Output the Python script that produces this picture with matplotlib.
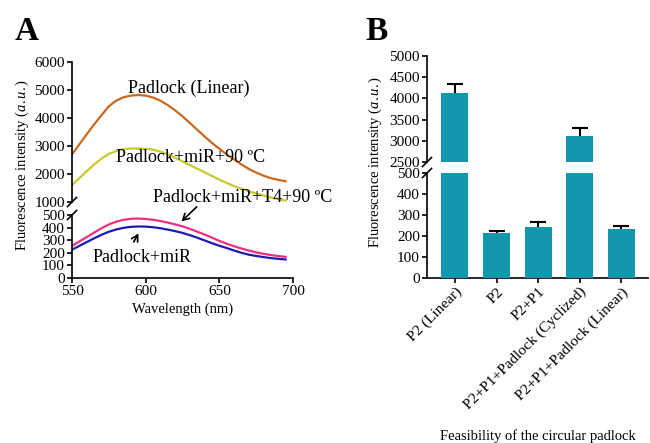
import matplotlib
matplotlib.use('Agg')
import matplotlib.pyplot as plt
import numpy as np

plt.rcParams['font.family'] = ['Liberation Serif', 'DejaVu Serif']
plt.rcParams['mathtext.fontset'] = 'custom'
plt.rcParams['mathtext.rm'] = 'Liberation Serif'
plt.rcParams['mathtext.it'] = 'Liberation Serif:italic'

# ---- panel A: emission spectra (every 5 nm) ----
wavelength = [550, 555, 560, 565, 570, 575, 580, 585, 590, 595,
              600, 605, 610, 615, 620, 625, 630, 635, 640, 645,
              650, 655, 660, 665, 670, 675, 680, 685, 690, 695]
padlock_linear = [2700, 3060, 3420, 3770, 4100, 4420, 4620, 4740, 4800, 4820,
                  4800, 4730, 4620, 4460, 4270, 4060, 3820, 3580, 3340, 3110,
                  2900, 2700, 2520, 2340, 2180, 2050, 1940, 1850, 1790, 1740]
padlock_mir_90 = [1600, 1850, 2100, 2340, 2550, 2720, 2820, 2880, 2910, 2910,
                  2900, 2870, 2800, 2700, 2580, 2450, 2320, 2190, 2060, 1930,
                  1800, 1680, 1570, 1470, 1380, 1300, 1230, 1160, 1100, 1050]
padlock_mir_t4_90 = [255, 290, 325, 360, 395, 425, 447, 462, 470, 472,
                     468, 462, 452, 440, 425, 410, 390, 368, 345, 320,
                     295, 272, 252, 234, 218, 203, 192, 182, 174, 168]
padlock_mir = [225, 255, 285, 315, 343, 367, 385, 398, 406, 409,
               408, 403, 395, 384, 372, 358, 340, 320, 298, 276,
               256, 238, 218, 200, 185, 175, 166, 158, 152, 147]

# ---- panel B: bar chart ----
groups = ['P2 (Linear)', 'P2', 'P2+P1', 'P2+P1+Padlock (Cyclized)',
          'P2+P1+Padlock (Linear)']
bar_means = [4120, 212, 241, 3120, 233]
bar_err = [210, 11, 26, 190, 15]

W, H = 650, 443
fig = plt.figure(figsize=(6.5, 4.43), dpi=100)


def px_axes(x0, y0, x1, y1):
    return fig.add_axes([x0 / W, 1 - y1 / H, (x1 - x0) / W, (y1 - y0) / H])


def style(ax, bottom=False):
    for s in ['top', 'right']:
        ax.spines[s].set_visible(False)
    ax.spines['left'].set_linewidth(1.2)
    ax.spines['bottom'].set_linewidth(1.2)
    if not bottom:
        ax.spines['bottom'].set_visible(False)
        ax.tick_params(axis='x', bottom=False, labelbottom=False)
    ax.tick_params(direction='out', length=3.6, width=1.2, labelsize=11, pad=1.5)
    ax.patch.set_alpha(0)


def break_marks(ax_top, ax_bot):
    d = 4.5
    for ax, yy in [(ax_top, 0), (ax_bot, 1)]:
        tr = ax.transAxes
        x0, y0 = tr.transform((0, yy))
        inv = fig.transFigure.inverted()
        p1 = inv.transform((x0 - d, y0 - d))
        p2 = inv.transform((x0 + d, y0 + d))
        fig.add_artist(plt.Line2D([p1[0], p2[0]], [p1[1], p2[1]],
                                  color='black', lw=1.2))


# ---------------- panel A ----------------
a_top = px_axes(72, 62, 293, 202)
a_bot = px_axes(72, 215, 293, 278)
curves = [(padlock_linear, '#C8691E'), (padlock_mir_90, '#C9C92E'),
          (padlock_mir_t4_90, '#EC2F80'), (padlock_mir, '#1C1CB4')]
for ax in (a_top, a_bot):
    for vals, col in curves:
        ax.plot(wavelength, vals, color=col, lw=1.6)
    ax.set_xlim(550, 700)
a_top.set_ylim(1000, 6000)
a_top.set_yticks([1000, 2000, 3000, 4000, 5000, 6000])
a_bot.set_ylim(0, 500)
a_bot.set_yticks([0, 100, 200, 300, 400, 500])
a_bot.set_xticks([550, 600, 650, 700])
style(a_top)
style(a_bot, bottom=True)
a_bot.set_xlabel('Wavelength (nm)', fontsize=10.5, labelpad=3)
break_marks(a_top, a_bot)

fig.text(22 / W, 1 - 165 / H, r'Fluorescence intensity ($\mathit{a.u.}$)',
         rotation=90, ha='center', va='center', fontsize=10.5)
fig.text(189 / W, 1 - 88 / H, 'Padlock (Linear)', ha='center', va='center', fontsize=13)
fig.text(191 / W, 1 - 157 / H, 'Padlock+miR+90 ºC', ha='center', va='center', fontsize=13)
fig.text(243 / W, 1 - 197 / H, 'Padlock+miR+T4+90 ºC', ha='center', va='center', fontsize=13)
fig.text(142 / W, 1 - 257 / H, 'Padlock+miR', ha='center', va='center', fontsize=13)
arrow = dict(arrowstyle='->,head_length=0.45,head_width=0.25', lw=1.2, color='black')
a_bot.annotate('', xy=(623, 434), xytext=(636, 580), arrowprops=arrow,
               annotation_clip=False)
a_bot.annotate('', xy=(596, 373), xytext=(591, 267), arrowprops=arrow,
               annotation_clip=False)

fig.text(15 / W, 1 - 40 / H, 'A', fontsize=24, fontweight='bold', va='baseline')

# ---------------- panel B ----------------
b_top = px_axes(427, 56, 648, 162)
b_bot = px_axes(427, 173, 648, 278)
x = np.arange(len(groups))
for ax in (b_top, b_bot):
    ax.bar(x, bar_means, width=0.65, color='#1496AC', zorder=3)
    eb = ax.errorbar(x, bar_means, yerr=[np.zeros(len(x)), bar_err], fmt='none',
                     ecolor='black', elinewidth=1.5, capsize=5.5, capthick=1.5,
                     zorder=2)
    eb[1][0].set_visible(False)
    ax.set_xlim(-0.67, 4.64)
b_top.set_ylim(2500, 5000)
b_top.set_yticks([2500, 3000, 3500, 4000, 4500, 5000])
b_bot.set_ylim(0, 500)
b_bot.set_yticks([0, 100, 200, 300, 400, 500])
style(b_top)
style(b_bot, bottom=True)
b_bot.set_xticks(x)
b_bot.set_xticklabels(groups, rotation=45, ha='right', rotation_mode='anchor',
                      fontsize=11)
break_marks(b_top, b_bot)

fig.text(375 / W, 1 - 162 / H, r'Fluorescence intensity ($\mathit{a.u.}$)',
         rotation=90, ha='center', va='center', fontsize=10.5)
fig.text(538 / W, 1 - 436 / H, 'Feasibility of the circular padlock',
         ha='center', va='center', fontsize=10.5)
fig.text(365 / W, 1 - 40 / H, 'B', fontsize=24, fontweight='bold', va='baseline')

fig.savefig('out.png', dpi=100)
